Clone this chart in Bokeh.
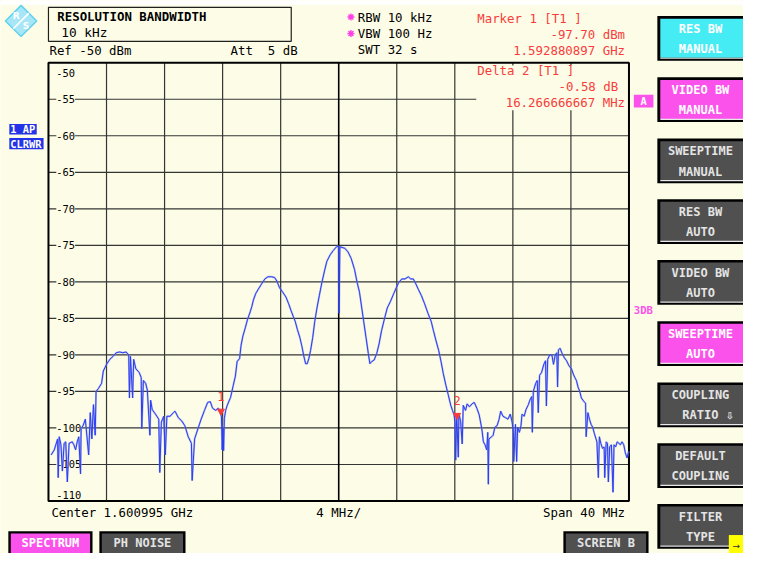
from bokeh.plotting import figure
from bokeh.models import Range1d
from bokeh.core.properties import value
from bokeh.embed import file_html
from bokeh.resources import INLINE

# ---------------- data ----------------
CENTER_GHZ = 1.600995
SPAN_MHZ = 40.0
REF_DBM = -50.0
DB_PER_DIV = 5.0
N_YDIV = 12
N_XDIV = 10

# trace: frequency measured from the span start (MHz), level (dBm)
trace_mhz = [
    0.18, 0.40, 0.63, 0.67, 0.74, 0.86, 0.96, 1.08, 1.19, 1.30,
    1.42, 1.64, 1.75, 1.87, 1.98, 2.09, 2.21, 2.25, 2.38, 2.54,
    2.77, 2.88, 2.99, 3.10, 3.22, 3.28, 3.44, 3.66, 3.78, 4.00,
    4.23, 4.45, 4.67, 4.90, 5.13, 5.35, 5.53, 5.58, 5.65, 5.80,
    5.87, 6.02, 6.25, 6.39, 6.43, 6.54, 6.70, 6.81, 6.99, 7.04,
    7.15, 7.37, 7.60, 7.67, 7.78, 7.94, 8.05, 8.16, 8.38, 8.61,
    8.72, 8.95, 9.17, 9.40, 9.63, 9.85, 9.90, 10.07, 10.30, 10.52,
    10.75, 10.97, 11.15, 11.31, 11.53, 11.69, 11.82, 11.92, 11.97, 12.03,
    12.07, 12.12, 12.21, 12.32, 12.55, 12.73, 12.88, 13.00, 13.17, 13.27,
    13.40, 13.56, 13.71, 13.90, 14.01, 14.12, 14.28, 14.46, 14.68, 14.91,
    15.13, 15.36, 15.58, 15.74, 15.92, 16.14, 16.37, 16.55, 16.71, 16.86,
    17.00, 17.15, 17.32, 17.45, 17.61, 17.72, 17.83, 17.94, 18.06, 18.21,
    18.35, 18.50, 18.66, 18.84, 19.02, 19.18, 19.41, 19.63, 19.85, 20.00,
    20.03, 20.08,
    20.42, 20.64, 20.86, 21.09, 21.27, 21.43, 21.59, 21.72, 21.88, 22.04,
    22.15, 22.28, 22.44, 22.62, 22.78, 22.95, 23.16, 23.34, 23.56, 23.79,
    23.97, 24.13, 24.35, 24.57, 24.80, 24.96, 25.14, 25.32, 25.48, 25.70,
    25.92, 26.15, 26.37, 26.53, 26.71, 26.89, 27.05, 27.20, 27.39, 27.54,
    27.72, 27.84, 27.95, 28.01, 28.06, 28.13, 28.24, 28.28, 28.40, 28.51,
    28.58, 28.74, 28.85, 29.01, 29.19, 29.34, 29.52, 29.68,
    29.86, 29.97, 30.08, 30.20, 30.27, 30.31, 30.35, 30.54, 30.64, 30.76,
    30.91, 31.05, 31.16, 31.32, 31.50, 31.66, 31.82, 31.95, 32.04, 32.06,
    32.18, 32.26, 32.33, 32.45, 32.56, 32.63, 32.78, 32.90, 33.07, 33.17,
    33.30, 33.34, 33.41, 33.57, 33.68, 33.75, 33.84, 33.98, 34.13, 34.25,
    34.31, 34.40, 34.54, 34.69, 34.80, 34.92, 35.03, 35.08, 35.14, 35.26,
    35.37, 35.55, 35.70, 35.87, 36.04, 36.16, 36.27, 36.38, 36.49, 36.61,
    36.72, 36.90, 37.01, 37.05, 37.17, 37.28, 37.39, 37.50, 37.62, 37.73,
    37.79, 37.89, 37.96, 38.06, 38.18, 38.29, 38.33, 38.43, 38.52, 38.58,
    38.67, 38.79, 38.90, 38.97, 39.08, 39.19, 39.30, 39.41, 39.52, 39.64,
    39.75, 39.87, 39.98,
]
trace_dbm = [
    -103.7, -103.0, -101.5, -106.8, -101.2, -102.3, -105.9, -102.1, -101.9, -107.4,
    -102.1, -101.9, -102.3, -103.0, -101.9, -101.2, -106.3, -100.1, -99.7, -98.8,
    -103.7, -97.9, -101.5, -96.8, -101.0, -95.0, -94.6, -93.9, -92.2, -91.3,
    -90.6, -90.2, -89.7, -89.6, -89.7, -89.6, -90.0, -95.9, -90.2, -95.9,
    -90.6, -91.9, -92.4, -93.1, -100.1, -93.5, -93.9, -94.8, -101.0, -96.2,
    -97.5, -98.1, -98.8, -106.1, -99.2, -98.4, -103.7, -98.4, -98.4, -97.9,
    -97.7, -98.6, -99.0, -99.7, -101.2, -102.1, -107.2, -101.5, -100.1, -98.8,
    -97.6, -96.5, -96.4, -97.3, -97.6, -97.3, -97.7, -98.5, -103.0, -100.0,
    -103.1, -98.7, -97.6, -96.9, -95.8, -94.2, -92.9, -90.9, -90.5, -88.7,
    -87.4, -86.3, -85.2, -84.1, -83.4, -82.5, -81.6, -81.0, -80.3, -79.6,
    -79.3, -79.3, -79.4, -79.9, -80.8, -81.4, -82.1, -83.0, -83.9, -84.7,
    -85.4, -86.5, -87.6, -88.7, -90.3, -91.2, -91.2, -90.5, -89.4, -87.6,
    -85.4, -83.6, -81.9, -80.1, -78.5, -77.2, -76.3, -75.7, -75.2, -75.1,
    -84.3, -75.2,
    -75.4, -75.9, -76.8, -78.3, -80.1, -81.4, -83.6, -85.4, -87.6, -89.8,
    -91.2, -90.9, -90.7, -89.8, -88.5, -86.7, -85.0, -83.6, -82.7, -81.6,
    -80.8, -80.1, -79.6, -79.6, -79.3, -79.6, -79.6, -80.3, -81.0, -81.9,
    -83.0, -84.3, -85.4, -86.7, -88.1, -89.4, -90.9, -92.5, -94.2, -95.4,
    -96.9, -97.6, -98.2, -99.1, -104.4, -98.2, -104.0, -98.0, -99.1, -102.2,
    -96.9, -97.6, -96.7, -97.1, -96.7, -96.5, -97.3, -98.2,
    -100.1, -101.9, -102.3, -103.0, -100.6, -107.7, -101.5, -101.2, -101.0, -99.9,
    -99.7, -98.8, -97.7, -98.4, -98.6, -98.8, -98.1, -99.2, -100.6, -104.6,
    -99.5, -104.6, -99.9, -100.6, -99.7, -98.1, -98.4, -97.5, -96.8, -96.2,
    -95.7, -100.6, -95.0, -93.9, -93.5, -97.9, -92.8, -92.4, -91.3, -90.8,
    -97.0, -90.6, -90.0, -90.0, -91.3, -90.0, -89.7, -94.4, -89.3, -89.1,
    -89.7, -90.4, -90.8, -91.5, -91.9, -92.6, -93.1, -93.5, -94.4, -95.0,
    -95.9, -96.4, -96.6, -101.2, -97.9, -98.8, -99.5, -99.9, -100.8, -101.5,
    -101.9, -106.8, -101.2, -102.1, -102.8, -102.6, -106.8, -101.9, -102.1, -107.4,
    -102.6, -102.3, -108.8, -102.3, -102.6, -101.9, -102.1, -102.3, -101.9, -102.3,
    -103.4, -104.1, -103.2,
]

marker_labels = ["1", "2"]
marker_freq_ghz = [1.592880897, 1.592880897 + 0.016266666667]
marker_level_dbm = [-97.70, -97.70 - 0.58]

ytick_values = [-50, -55, -60, -65, -70, -75, -80, -85, -90, -95, -100, -105, -110]
ytick_labels = ["-50", "-55", "-60", "-65", "-70", "-75", "-80", "-85", "-90",
                "-95", "-100", "-105", "-110"]

softkey_line1 = ["RES BW", "VIDEO BW", "SWEEPTIME", "RES BW", "VIDEO BW",
                 "SWEEPTIME", "COUPLING", "DEFAULT", "FILTER"]
softkey_line2 = ["MANUAL", "MANUAL", "MANUAL", "AUTO", "AUTO", "AUTO",
                 "RATIO", "COUPLING", "TYPE"]
softkey_state = ["cyan", "magenta", "gray", "gray", "gray", "magenta",
                 "gray", "gray", "gray"]

bottom_buttons = ["SPECTRUM", "PH NOISE", "SCREEN B"]
bottom_state = ["magenta", "gray", "gray"]

# ---------------- layout / style ----------------
W_REF, H_REF = 759, 569
W, H = 743, 553
BG = "#fdfde7"
FONT = "DejaVu Sans Mono"
RED = "#f83c3c"
MAG = "#fc52ec"
CYAN = "#46ecf4"
GRAY = "#505050"
BLUE_LBL = "#2233e8"
TRACE = "#2b3df0"
STATE_COL = {"cyan": CYAN, "magenta": MAG, "gray": GRAY}
STATE_TXT = {"cyan": "#ffffff", "magenta": "#ffffff", "gray": "#e4e4e4"}
NBSP = "\u00a0"

PX_L, PX_R, PX_T, PX_B = 49, 642, 64, 515

p = figure(width=W, height=H, x_range=Range1d(0, W_REF), y_range=Range1d(H_REF, 0),
           toolbar_location=None, output_backend="svg",
           x_axis_type=None, y_axis_type=None, min_border=0,
           background_fill_color=BG, border_fill_color=BG, outline_line_color=None)
p.grid.visible = False

k = SPAN_MHZ / (PX_R - PX_L)
db_span = N_YDIV * DB_PER_DIV
dbpp = db_span / (PX_B - PX_T)
bottom_db = REF_DBM - db_span
p.extra_x_ranges = {"f": Range1d(-PX_L * k, SPAN_MHZ + (W_REF - PX_R) * k)}
p.extra_y_ranges = {"db": Range1d(bottom_db - (H_REF - PX_B) * dbpp, REF_DBM + PX_T * dbpp)}


def txt(x, y, s, color="#000000", size="12.4px", bold=False, align="left",
        xr="default", yr="default", bg=None, font=FONT, baseline="middle", **kw):
    if not isinstance(x, list):
        x, y, s = [x], [y], [s]
    p.text(x=x, y=y, text=s, text_font=value(font), text_font_size=value(size),
           text_color=color, text_align=align, text_baseline=baseline,
           text_font_style="bold" if bold else "normal",
           x_range_name=xr, y_range_name=yr, background_fill_color=bg, **kw)


# top white strip
p.quad(left=0, right=W_REF, top=0, bottom=4.5, fill_color="white", line_color=None)

# R&S logo
p.patch(x=[21, 37, 21, 5], y=[5, 21, 37, 21], fill_color="#a6e6f6",
        line_color="#62d2ef", line_width=1.5)
p.segment(x0=[29], y0=[13], x1=[13], y1=[29], line_color="white", line_width=1.5)
txt([16, 26], [16, 26], ["R", "S"], color="white", size="9px", bold=True,
    align="center", font="DejaVu Sans")

# info box
p.quad(left=49, right=297, top=7, bottom=42, fill_color=None, line_color="#202020", line_width=1.2)
txt(58, 16, "RESOLUTION BANDWIDTH", bold=True, size="12.4px")
txt(62, 33, "10 kHz", size="12.8px")
txt(50, 51, "Ref -50 dBm")
txt(235, 51, "Att" + NBSP * 2 + "5 dB")
p.scatter(x=[358, 358], y=[17, 34], marker="asterisk", size=7, line_color="#ff3ee6", line_width=1.4)
txt([365, 365, 365], [17, 34, 50], ["RBW 10 kHz", "VBW 100 Hz", "SWT 32 s"])

# grid
hlines = [REF_DBM - DB_PER_DIV * i for i in range(1, N_YDIV)]
p.segment(x0=PX_L, x1=PX_R, y0=hlines, y1=hlines, y_range_name="db",
          line_color="#353535", line_width=1.2)
vlines = [SPAN_MHZ / N_XDIV * i for i in range(1, N_XDIV) if i != N_XDIV // 2]
p.segment(x0=vlines, x1=vlines, y0=REF_DBM, y1=bottom_db, x_range_name="f",
          y_range_name="db", line_color="#353535", line_width=1.2)
p.segment(x0=[SPAN_MHZ / 2], x1=[SPAN_MHZ / 2], y0=REF_DBM, y1=bottom_db, x_range_name="f",
          y_range_name="db", line_color="#000000", line_width=1.6)

# cream area behind delta marker readout
p.quad(left=486, right=641, top=67, bottom=113, fill_color=BG, line_color=None)

# frame
p.quad(left=PX_L, right=PX_R, top=PX_T, bottom=PX_B, fill_color=None,
       line_color="#000000", line_width=2)

# y labels
mid_vals = ytick_values[1:-1]
mid_lbls = ytick_labels[1:-1]
txt([57] * len(mid_vals), mid_vals, mid_lbls, size="10.4px", yr="db", bg=BG)
txt(57, ytick_values[0], ytick_labels[0], size="10.4px", yr="db", bg=BG, y_offset=10)
txt(57, ytick_values[-1], ytick_labels[-1], size="10.4px", yr="db", bg=BG, y_offset=-6)

# trace
p.line(x=trace_mhz, y=trace_dbm, x_range_name="f", y_range_name="db",
       line_color="#7d8cf2", line_width=2.0, line_alpha=0.55)
p.line(x=trace_mhz, y=trace_dbm, x_range_name="f", y_range_name="db",
       line_color=TRACE, line_width=1.0)

# markers
start_mhz = CENTER_GHZ * 1000 - SPAN_MHZ / 2
m_x = [f * 1000 - start_mhz for f in marker_freq_ghz]
p.scatter(x=m_x, y=marker_level_dbm, x_range_name="f", y_range_name="db",
          marker="inverted_triangle", size=7, fill_color=RED, line_color=RED)
txt(m_x, marker_level_dbm, marker_labels, color=RED, size="12px", align="center",
    xr="f", yr="db", y_offset=-15)

# marker readouts
txt(487, 19, "Marker 1 [T1 ]", color=RED)
txt([638, 638], [35, 51], ["-97.70 dBm", "1.592880897 GHz"], color=RED, align="right")
txt(487, 72, "Delta 2 [T1 ]", color=RED)
txt(631, 89, "-0.58 dB", color=RED, align="right")
txt(638, 105, "16.266666667 MHz", color=RED, align="right")

# trace labels on left
p.quad(left=[9, 9], right=[37, 44], top=[127, 141.5], bottom=[138, 153],
       fill_color=BLUE_LBL, line_color=None)
txt([10, 10], [132.5, 147.3], ["1 AP", "CLRWR"], color="white", size="10.4px", bold=True)

# "A" and "3DB" flags
p.quad(left=647, right=667, top=97, bottom=110, fill_color=MAG, line_color=None)
txt(657, 103.5, "A", color="white", size="10.4px", bold=True, align="center")
txt(647, 318, "3DB", color=MAG, size="10.6px", bold=True)

# bottom annotation
txt(52, 527, "Center 1.600995 GHz")
txt(345.5, 527, "4 MHz/", align="center")
txt(638, 527, "Span 40 MHz", align="right")

# softkeys
sk_top = [16, 79, 142, 204.5, 267, 330, 393, 455.5, 518]
sk_h = 46
n = len(sk_top)
p.quad(left=[671] * n, right=[W_REF] * n, top=sk_top, bottom=[t + sk_h for t in sk_top],
       fill_color="#000000", line_color=None)
p.quad(left=[674] * n, right=[W_REF] * n, top=[t + 2.7 for t in sk_top],
       bottom=[t + sk_h - 3 for t in sk_top],
       fill_color=[STATE_COL[s] for s in softkey_state], line_color=None)
p.segment(x0=[674] * n, x1=[W_REF] * n, y0=[t + sk_h - 2.6 for t in sk_top],
          y1=[t + sk_h - 2.6 for t in sk_top], line_color="#e8e8e8", line_width=1.2)
txt([715] * n, [t + 13 for t in sk_top], softkey_line1,
    color=[STATE_TXT[s] for s in softkey_state], size="12px", bold=True, align="center")
txt([715] * n, [t + 34 for t in sk_top], softkey_line2,
    color=[STATE_TXT[s] for s in softkey_state], size="12px", bold=True, align="center")
txt(745, sk_top[6] + 34, "⇩", color="#e4e4e4", size="10px", bold=True, align="center",
    font="DejaVu Sans")
# yellow arrow tab
p.quad(left=744, right=W_REF, top=550, bottom=H_REF, fill_color="#ffff00", line_color=None)
txt(751.5, 561, "→", color="#303030", size="9px", align="center", font="DejaVu Sans")

# bottom buttons
bb_left = [8, 101, 575]
bb_right = [94, 189, 662]
p.quad(left=bb_left, right=bb_right, top=[546] * 3, bottom=[H_REF] * 3,
       fill_color="#000000", line_color=None)
p.quad(left=[l + 2.5 for l in bb_left], right=[r - 2.5 for r in bb_right],
       top=[548.5] * 3, bottom=[H_REF] * 3,
       fill_color=[STATE_COL[s] for s in bottom_state], line_color=None)
txt([(l + r) / 2 for l, r in zip(bb_left, bb_right)], [558.5] * 3, bottom_buttons,
    color=[STATE_TXT[s] for s in bottom_state], size="12px", bold=True, align="center")

open("out.html", "w").write(file_html(p, INLINE))
